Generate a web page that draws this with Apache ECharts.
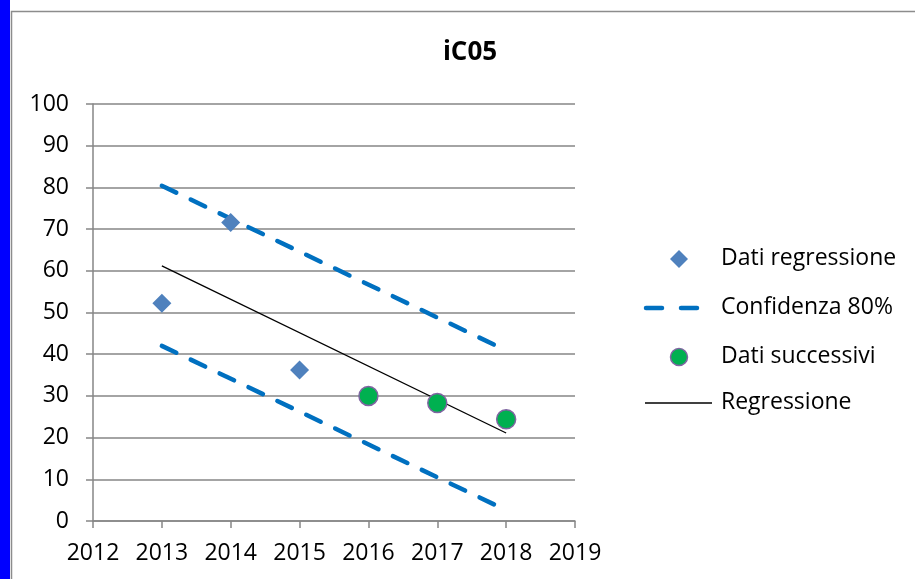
<!DOCTYPE html>
<html><head><meta charset="utf-8">
<script src="https://cdn.jsdelivr.net/npm/echarts@6/dist/echarts.min.js"></script>
<style>html,body{margin:0;padding:0;background:#fff}#c{width:915px;height:579px}</style>
</head><body><div id="c"></div>
<script>
const titleText = 'iC05';
const seriesNames = ['Dati regressione', 'Confidenza 80%', 'Dati successivi', 'Regressione'];
const regYears = [2013, 2014, 2015];
const regValues = [52.2, 71.6, 36.2];
const confYears = [2013, 2018];
const confUpper = [80.4, 40.9];
const confLower = [42.0, 2.6];
const nextYears = [2016, 2017, 2018];
const nextValues = [30.0, 28.3, 24.4];
const lineYears = [2013, 2018];
const lineValues = [61.2, 21.1];

const FONT = '"Open Sans"';
const chart = echarts.init(document.getElementById('c'), null, {renderer: 'canvas'});
const zip = (a, b) => a.map((x, i) => [x, b[i]]);
const dashStyle = {color: '#0070C0', width: 4.5, type: [16, 16], cap: 'round'};

const legendY = [259, 308, 357, 403];
const legendGraphics = [];
seriesNames.forEach((n, i) => {
  legendGraphics.push({type: 'text', x: 721, y: legendY[i] - 1,
    style: {text: n, font: '23px ' + FONT, fill: '#000', verticalAlign: 'middle', align: 'left'}});
});
legendGraphics.push(
  {type: 'polygon', shape: {points: [[679, 250], [688, 259], [679, 268], [670, 259]]}, style: {fill: '#4F81BD'}},
  {type: 'line', shape: {x1: 646, y1: 308, x2: 662, y2: 308}, style: {stroke: '#0070C0', lineWidth: 4.5, lineCap: 'round'}},
  {type: 'line', shape: {x1: 681, y1: 308, x2: 697, y2: 308}, style: {stroke: '#0070C0', lineWidth: 4.5, lineCap: 'round'}},
  {type: 'circle', shape: {cx: 679, cy: 357, r: 8.5}, style: {fill: '#00B050', stroke: '#8064A2', lineWidth: 1.5}},
  {type: 'line', shape: {x1: 645, y1: 403, x2: 712, y2: 403}, style: {stroke: '#000', lineWidth: 1.3}}
);

chart.setOption({
  animation: false,
  backgroundColor: '#fff',
  title: {text: titleText, left: 465, top: 35, textAlign: 'center',
    textStyle: {fontFamily: FONT, fontSize: 26, fontWeight: 'bold', color: '#000'}},
  grid: {left: 93, right: 340, top: 104, bottom: 58},
  xAxis: {type: 'value', min: 2012, max: 2019, interval: 1,
    axisLine: {show: true, onZero: false, lineStyle: {color: '#868686', width: 1.5}},
    axisTick: {show: true, length: 7, lineStyle: {color: '#868686', width: 1.5}},
    axisLabel: {color: '#000', fontFamily: FONT, fontSize: 23, margin: 21, formatter: v => String(v)},
    splitLine: {show: false}},
  yAxis: {type: 'value', min: 0, max: 100, interval: 10,
    axisLine: {show: true, lineStyle: {color: '#868686', width: 1.5}},
    axisTick: {show: true, length: 7, lineStyle: {color: '#868686', width: 1.5}},
    axisLabel: {color: '#000', fontFamily: FONT, fontSize: 23, margin: 24},
    splitLine: {show: true, lineStyle: {color: '#868686', width: 1.5}}},
  graphic: [
    {type: 'rect', shape: {x: 0, y: 0, width: 10, height: 579}, style: {fill: '#0000FF'}, z: 100},
    {type: 'rect', shape: {x: 11.5, y: 11.5, width: 1000, height: 1000}, style: {fill: 'none', stroke: '#8c8c8c', lineWidth: 1.5}, z: 100}
  ].concat(legendGraphics),
  series: [
    {name: seriesNames[1], type: 'line', data: zip(confYears, confUpper), symbol: 'none', lineStyle: dashStyle, z: 2},
    {name: seriesNames[1] + ' ', type: 'line', data: zip(confYears, confLower), symbol: 'none', lineStyle: dashStyle, z: 2},
    {name: seriesNames[3], type: 'line', data: zip(lineYears, lineValues), symbol: 'none', lineStyle: {color: '#000', width: 1.3}, z: 3},
    {name: seriesNames[0], type: 'scatter', data: zip(regYears, regValues), symbol: 'diamond', symbolSize: [19, 19],
      itemStyle: {color: '#4F81BD', opacity: 1}, z: 4},
    {name: seriesNames[2], type: 'scatter', data: zip(nextYears, nextValues), symbol: 'circle', symbolSize: 19,
      itemStyle: {color: '#00B050', borderColor: '#8064A2', borderWidth: 1.5, opacity: 1}, z: 4}
  ]
});
</script></body></html>
